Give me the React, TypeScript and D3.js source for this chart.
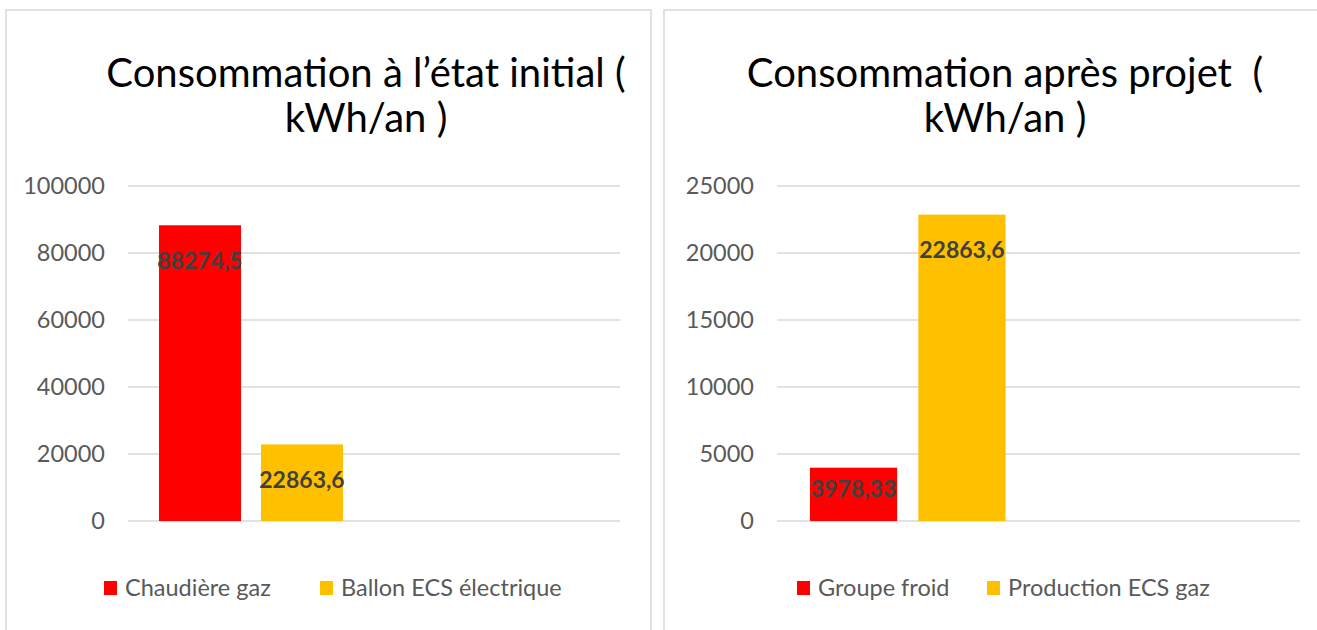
import React from 'react';
import * as d3 from 'd3';

// left chart: état initial
const initialSeries = ['Chaudière gaz', 'Ballon ECS électrique'];
const initialValues = [88274.5, 22863.6];
const initialLabels = ['88274,5', '22863,6'];
const initialTicks = [0, 20000, 40000, 60000, 80000, 100000];

// right chart: après projet
const projetSeries = ['Groupe froid', 'Production ECS gaz'];
const projetValues = [3978.33, 22863.6];
const projetLabels = ['3978,33', '22863,6'];
const projetTicks = [0, 5000, 10000, 15000, 20000, 25000];

// Excel left an empty second category slot on both charts
const categories = ['cat1', 'cat2'];
const seriesColors = ['#FF0000', '#FFC000'];

const FONT = 'Lato, "Open Sans", sans-serif';

interface PanelProps {
  x0: number;
  x1: number;
  titleX: number;
  title: string[];
  series: string[];
  values: number[];
  labels: string[];
  ticks: number[];
  plotLeft: number;
  plotRight: number;
  tickX: number;
  legendX: number[];
}

const Panel: React.FC<PanelProps> = (p) => {
  const top = 186;
  const bottom = 521;
  const y = d3.scaleLinear().domain([0, p.ticks[p.ticks.length - 1]]).range([bottom, top]);
  const xCat = d3.scaleBand().domain(categories).range([p.plotLeft, p.plotRight]).paddingInner(0).paddingOuter(0);
  const groupW = xCat.bandwidth() * 0.748;
  const xSer = d3.scaleBand()
    .domain(p.series)
    .range([0, groupW])
    .paddingInner(0.196)
    .paddingOuter(0);
  const catStart = (xCat('cat1') as number) + (xCat.bandwidth() - groupW) / 2;

  return (
    <g>
      {/* panel frame */}
      <rect x={p.x0} y={10} width={p.x1 - p.x0} height={640} fill="#fff" stroke="#d9d9d9" strokeWidth={1.5} />

      {p.title.map((t, i) => (
        <text key={i} x={p.titleX} y={87 + i * 45} textAnchor="middle" fontFamily={FONT} fontSize={40}
          fill="#000" style={{ whiteSpace: 'pre' }}>
          {t}
        </text>
      ))}

      {/* gridlines */}
      {p.ticks.map((t) => (
        <g key={t}>
          <line x1={p.plotLeft} x2={p.plotRight} y1={y(t)} y2={y(t)} stroke="#d9d9d9" strokeWidth={1.5} />
          <text x={p.tickX} y={y(t)} dy="0.36em" textAnchor="end" fontFamily={FONT} fontSize={23.5} fill="#595959">
            {t}
          </text>
        </g>
      ))}

      {/* bars */}
      {p.values.map((v, i) => {
        const bx = catStart + (xSer(p.series[i]) as number);
        const by = y(v);
        const ly = Math.min(by + 35, bottom - 32);
        return (
          <g key={i}>
            <rect x={bx} y={by} width={xSer.bandwidth()} height={bottom - by} fill={seriesColors[i]} />
            <text x={bx + xSer.bandwidth() / 2} y={ly} dy="0.36em" textAnchor="middle" fontFamily={FONT}
              fontWeight="bold" fontSize={23} fill="#404040">
              {p.labels[i]}
            </text>
          </g>
        );
      })}

      {/* legend */}
      {p.series.map((s, i) => (
        <g key={s} transform={`translate(${p.legendX[i]},588)`}>
          <rect x={0} y={-7} width={13} height={14} fill={seriesColors[i]} />
          <text x={21} y={0} dy="0.36em" fontFamily={FONT} fontSize={23.5} fill="#595959">{s}</text>
        </g>
      ))}
    </g>
  );
};

export default function App() {
  return (
    <svg width={1317} height={630} style={{ position: 'absolute', left: 0, top: 0, background: '#fff' }}>
      <Panel
        x0={6} x1={651} titleX={366}
        title={['Consommation à l\u2019état initial (', 'kWh/an )']}
        series={initialSeries} values={initialValues} labels={initialLabels} ticks={initialTicks}
        plotLeft={128} plotRight={620} tickX={105} legendX={[104, 320]}
      />
      <Panel
        x0={664} x1={1330} titleX={1005}
        title={['Consommation après projet  (', 'kWh/an )']}
        series={projetSeries} values={projetValues} labels={projetLabels} ticks={projetTicks}
        plotLeft={777} plotRight={1300} tickX={754} legendX={[797, 987]}
      />
    </svg>
  );
}
